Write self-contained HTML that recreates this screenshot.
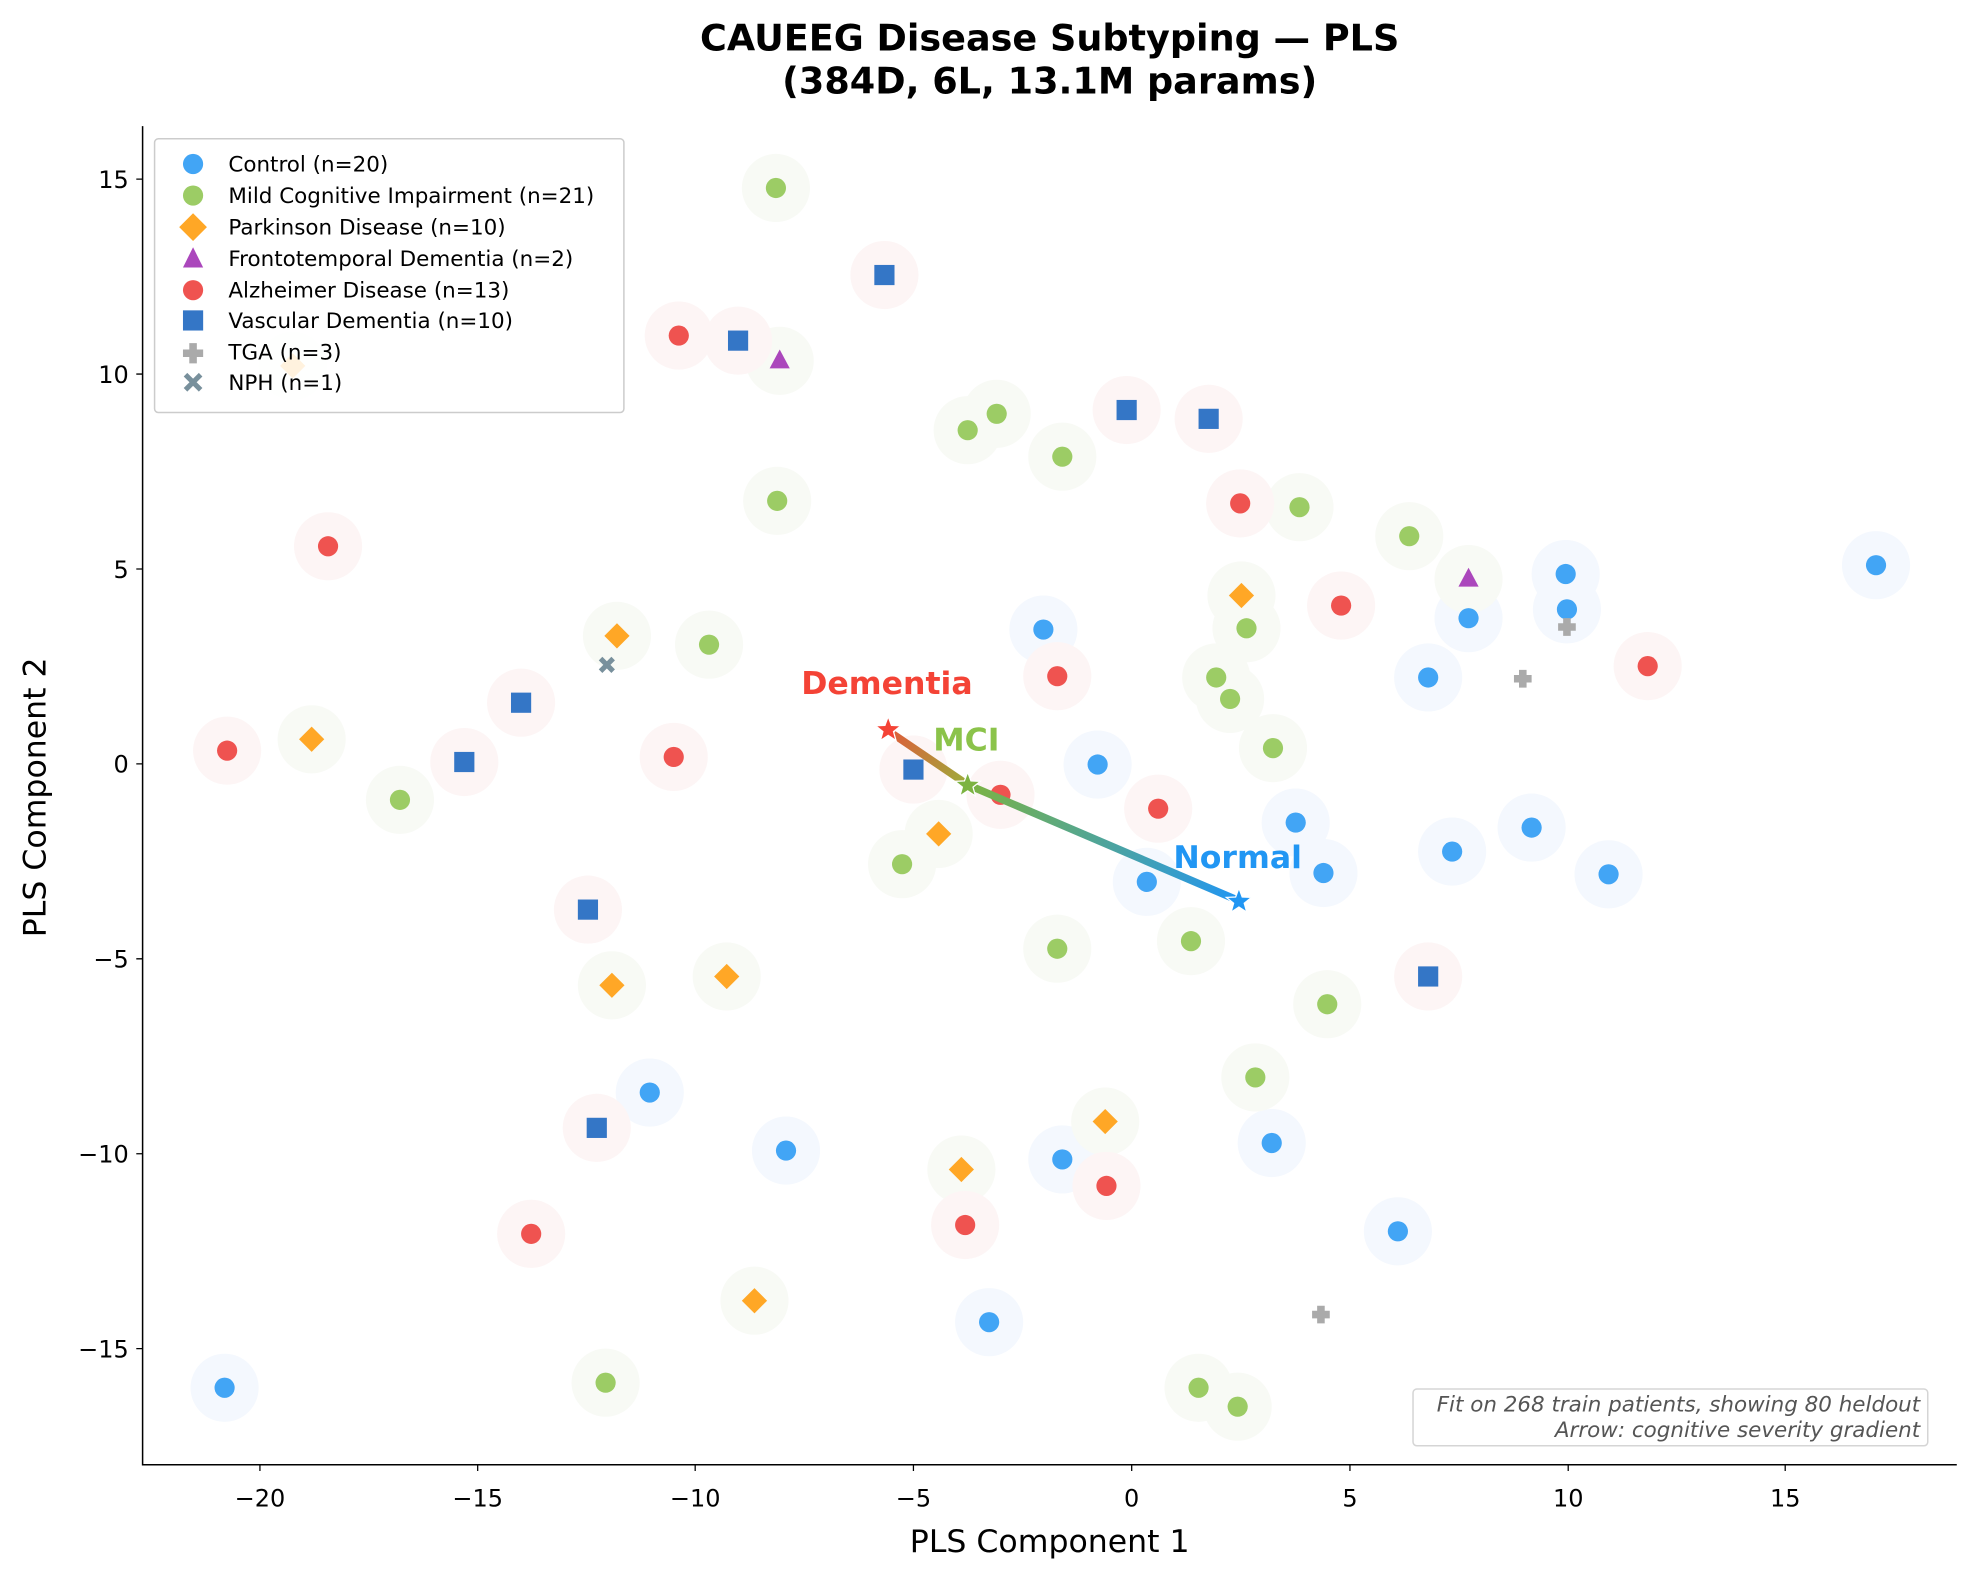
<!DOCTYPE html>
<html><head><meta charset="utf-8"><style>html,body{margin:0;padding:0;background:#fff}svg{display:block}text{font-family:"DejaVu Sans","Liberation Sans",sans-serif}</style></head>
<body>
<svg width="1977" height="1577" viewBox="0 0 1567 1250" xmlns="http://www.w3.org/2000/svg">
<defs>
<linearGradient id="g1" gradientUnits="userSpaceOnUse" x1="982" y1="714" x2="767" y2="622"><stop offset="0" stop-color="#2196f3"/><stop offset="1" stop-color="#7cb342"/></linearGradient>
<linearGradient id="g2" gradientUnits="userSpaceOnUse" x1="767" y1="622" x2="704" y2="578"><stop offset="0" stop-color="#9cad3a"/><stop offset="1" stop-color="#e05a3a"/></linearGradient>
</defs>
<rect width="1567" height="1250" fill="#fff"/>
<text x="832" y="40" text-anchor="middle" font-size="29" font-weight="bold">CAUEEG Disease Subtyping — PLS</text>
<text x="832" y="74" text-anchor="middle" font-size="29" font-weight="bold">(384D, 6L, 13.1M params)</text>
<g id="halos">
<g fill="#f4f8fe">
<circle cx="1487" cy="448" r="27"/><circle cx="1241" cy="455" r="27"/><circle cx="1242" cy="483" r="27"/><circle cx="1164" cy="490" r="27"/><circle cx="1132" cy="537" r="27"/><circle cx="827" cy="499" r="27"/><circle cx="870" cy="606" r="27"/><circle cx="1027" cy="652" r="27"/><circle cx="1049" cy="692" r="27"/><circle cx="1151" cy="675" r="27"/><circle cx="1214" cy="656" r="27"/><circle cx="1275" cy="693" r="27"/><circle cx="909" cy="699" r="27"/><circle cx="515" cy="866" r="27"/><circle cx="623" cy="912" r="27"/><circle cx="842" cy="919" r="27"/><circle cx="1008" cy="906" r="27"/><circle cx="1108" cy="976" r="27"/><circle cx="784" cy="1048" r="27"/><circle cx="178" cy="1100" r="27"/>
</g>
<g fill="#f8faf5">
<circle cx="615" cy="149" r="27"/><circle cx="767" cy="341" r="27"/><circle cx="790" cy="328" r="27"/><circle cx="842" cy="362" r="27"/><circle cx="616" cy="397" r="27"/><circle cx="1030" cy="402" r="27"/><circle cx="1117" cy="425" r="27"/><circle cx="988" cy="498" r="27"/><circle cx="562" cy="511" r="27"/><circle cx="964" cy="537" r="27"/><circle cx="975" cy="554" r="27"/><circle cx="1009" cy="593" r="27"/><circle cx="317" cy="634" r="27"/><circle cx="715" cy="685" r="27"/><circle cx="838" cy="752" r="27"/><circle cx="944" cy="746" r="27"/><circle cx="1052" cy="796" r="27"/><circle cx="995" cy="854" r="27"/><circle cx="480" cy="1096" r="27"/><circle cx="950" cy="1100" r="27"/><circle cx="981" cy="1115" r="27"/>
<circle cx="984" cy="472" r="27"/><circle cx="489" cy="504" r="27"/><circle cx="247" cy="586" r="27"/><circle cx="744" cy="661" r="27"/><circle cx="485" cy="781" r="27"/><circle cx="576" cy="774" r="27"/><circle cx="876" cy="889" r="27"/><circle cx="762" cy="927" r="27"/><circle cx="598" cy="1031" r="27"/><circle cx="232" cy="290" r="27"/>
<circle cx="618" cy="286" r="27"/><circle cx="1164" cy="459" r="27"/>
</g>
<g fill="#fdf5f5">
<circle cx="538" cy="266" r="27"/><circle cx="260" cy="433" r="27"/><circle cx="1063" cy="480" r="27"/><circle cx="838" cy="536" r="27"/><circle cx="180" cy="595" r="27"/><circle cx="534" cy="600" r="27"/><circle cx="918" cy="641" r="27"/><circle cx="793" cy="630" r="27"/><circle cx="983" cy="399" r="27"/><circle cx="877" cy="940" r="27"/><circle cx="765" cy="971" r="27"/><circle cx="421" cy="978" r="27"/><circle cx="1306" cy="528" r="27"/>
<circle cx="701" cy="218" r="27"/><circle cx="585" cy="270" r="27"/><circle cx="893" cy="325" r="27"/><circle cx="958" cy="332" r="27"/><circle cx="413" cy="557" r="27"/><circle cx="368" cy="604" r="27"/><circle cx="724" cy="610" r="27"/><circle cx="466" cy="721" r="27"/><circle cx="1132" cy="774" r="27"/><circle cx="473" cy="894" r="27"/>
</g>
</g>
<g fill="#42a5f5">
<circle cx="1487" cy="448" r="8"/><circle cx="1241" cy="455" r="8"/><circle cx="1242" cy="483" r="8"/><circle cx="1164" cy="490" r="8"/><circle cx="1132" cy="537" r="8"/><circle cx="827" cy="499" r="8"/><circle cx="870" cy="606" r="8"/><circle cx="1027" cy="652" r="8"/><circle cx="1049" cy="692" r="8"/><circle cx="1151" cy="675" r="8"/><circle cx="1214" cy="656" r="8"/><circle cx="1275" cy="693" r="8"/><circle cx="909" cy="699" r="8"/><circle cx="515" cy="866" r="8"/><circle cx="623" cy="912" r="8"/><circle cx="842" cy="919" r="8"/><circle cx="1008" cy="906" r="8"/><circle cx="1108" cy="976" r="8"/><circle cx="784" cy="1048" r="8"/><circle cx="178" cy="1100" r="8"/>
</g>
<g fill="#9ccc65">
<circle cx="615" cy="149" r="8"/><circle cx="767" cy="341" r="8"/><circle cx="790" cy="328" r="8"/><circle cx="842" cy="362" r="8"/><circle cx="616" cy="397" r="8"/><circle cx="1030" cy="402" r="8"/><circle cx="1117" cy="425" r="8"/><circle cx="988" cy="498" r="8"/><circle cx="562" cy="511" r="8"/><circle cx="964" cy="537" r="8"/><circle cx="975" cy="554" r="8"/><circle cx="1009" cy="593" r="8"/><circle cx="317" cy="634" r="8"/><circle cx="715" cy="685" r="8"/><circle cx="838" cy="752" r="8"/><circle cx="944" cy="746" r="8"/><circle cx="1052" cy="796" r="8"/><circle cx="995" cy="854" r="8"/><circle cx="480" cy="1096" r="8"/><circle cx="950" cy="1100" r="8"/><circle cx="981" cy="1115" r="8"/>
</g>
<g fill="#ffa726">
<path d="M984 462l10 10-10 10-10-10z"/><path d="M489 494l10 10-10 10-10-10z"/><path d="M247 576l10 10-10 10-10-10z"/><path d="M744 651l10 10-10 10-10-10z"/><path d="M485 771l10 10-10 10-10-10z"/><path d="M576 764l10 10-10 10-10-10z"/><path d="M876 879l10 10-10 10-10-10z"/><path d="M762 917l10 10-10 10-10-10z"/><path d="M598 1021l10 10-10 10-10-10z"/><path d="M232 280l10 10-10 10-10-10z"/>
</g>
<g fill="#ab47bc"><path d="M618 277l8 15h-16z"/><path d="M1164 450l8 15h-16z"/></g>
<g fill="#ef5350">
<circle cx="538" cy="266" r="8"/><circle cx="260" cy="433" r="8"/><circle cx="1063" cy="480" r="8"/><circle cx="838" cy="536" r="8"/><circle cx="180" cy="595" r="8"/><circle cx="534" cy="600" r="8"/><circle cx="918" cy="641" r="8"/><circle cx="793" cy="630" r="8"/><circle cx="983" cy="399" r="8"/><circle cx="877" cy="940" r="8"/><circle cx="765" cy="971" r="8"/><circle cx="421" cy="978" r="8"/><circle cx="1306" cy="528" r="8"/>
</g>
<g fill="#3476c6">
<rect x="693" y="210" width="16" height="16"/><rect x="577" y="262" width="16" height="16"/><rect x="885" y="317" width="16" height="16"/><rect x="950" y="324" width="16" height="16"/><rect x="405" y="549" width="16" height="16"/><rect x="360" y="596" width="16" height="16"/><rect x="716" y="602" width="16" height="16"/><rect x="458" y="713" width="16" height="16"/><rect x="1124" y="766" width="16" height="16"/><rect x="465" y="886" width="16" height="16"/>
</g>
<g fill="#aaa"><path d="M1204 531h6v4h4v6h-4v4h-6v-4h-4v-6h4z"/><path d="M1239 490h6v4h4v6h-4v4h-6v-4h-4v-6h4z"/><path d="M1044 1035h6v4h4v6h-4v4h-6v-4h-4v-6h4z"/></g>
<path d="M476 522l10 10M486 522l-10 10" stroke="#78909c" stroke-width="4"/>
<line x1="982" y1="714" x2="767" y2="622" stroke="url(#g1)" stroke-width="6"/>
<line x1="767" y1="622" x2="708" y2="582" stroke="url(#g2)" stroke-width="6"/>
<g stroke="#fff" stroke-width="1">
<path fill="#2196f3" d="M982 704l2.6 7 7.4.3-5.8 4.6 2 7.1-6.2-4.1-6.2 4.1 2-7.1-5.8-4.6 7.4-.3z"/>
<path fill="#7cb342" d="M767 612l2.6 7 7.4.3-5.8 4.6 2 7.1-6.2-4.1-6.2 4.1 2-7.1-5.8-4.6 7.4-.3z"/>
<path fill="#f44336" d="M704 568l2.6 7 7.4.3-5.8 4.6 2 7.1-6.2-4.1-6.2 4.1 2-7.1-5.8-4.6 7.4-.3z"/>
</g>
<text x="703" y="550" text-anchor="middle" font-size="25" font-weight="bold" fill="#f44336">Dementia</text>
<text x="766" y="595" text-anchor="middle" font-size="25" font-weight="bold" fill="#8bc34a">MCI</text>
<text x="981" y="688" text-anchor="middle" font-size="25" font-weight="bold" fill="#2196f3">Normal</text>
<rect x="122.5" y="110" width="372" height="217" rx="3" fill="#fff" fill-opacity="0.85" stroke="#ccc" stroke-width="1.2"/>
<g font-size="17">
<circle cx="153" cy="130" r="8" fill="#42a5f5"/><text x="181" y="136">Control (n=20)</text>
<circle cx="153" cy="155" r="8" fill="#9ccc65"/><text x="181" y="161">Mild Cognitive Impairment (n=21)</text>
<path d="M153 169l11 11-11 11-11-11z" fill="#ffa726"/><text x="181" y="186">Parkinson Disease (n=10)</text>
<path d="M153 196l8 16h-16z" fill="#ab47bc"/><text x="181" y="211">Frontotemporal Dementia (n=2)</text>
<circle cx="153" cy="230" r="8" fill="#ef5350"/><text x="181" y="236">Alzheimer Disease (n=13)</text>
<rect x="145" y="246" width="16" height="16" fill="#3476c6"/><text x="181" y="260">Vascular Dementia (n=10)</text>
<path d="M150 272h6v5h5v6h-5v5h-6v-5h-5v-6h5z" fill="#aaa"/><text x="181" y="285">TGA (n=3)</text>
<path d="M147 297l12 12M159 297l-12 12" stroke="#78909c" stroke-width="4"/><text x="181" y="309">NPH (n=1)</text>
</g>
<rect x="1120" y="1101" width="408" height="45" rx="3" fill="#fff" stroke="#d5d5d5" stroke-width="1.2"/>
<text x="1522" y="1119" text-anchor="end" font-size="17" font-style="italic" fill="#555">Fit on 268 train patients, showing 80 heldout</text>
<text x="1522" y="1139" text-anchor="end" font-size="17" font-style="italic" fill="#555">Arrow: cognitive severity gradient</text>
<path d="M113 100V1161H1551" fill="none" stroke="#000" stroke-width="1.2"/>
<g stroke="#000" stroke-width="1">
<path d="M206 1161v5M378.6 1161v5M551 1161v5M724 1161v5M897 1161v5M1070 1161v5M1243 1161v5M1415 1161v5"/>
<path d="M113 142h-5M113 296.5h-5M113 451h-5M113 605.5h-5M113 760h-5M113 914.5h-5M113 1069h-5"/>
</g>
<g font-size="19" text-anchor="middle">
<text x="206" y="1194">−20</text><text x="378.6" y="1194">−15</text><text x="551" y="1194">−10</text><text x="724" y="1194">−5</text><text x="897" y="1194">0</text><text x="1070" y="1194">5</text><text x="1243" y="1194">10</text><text x="1415" y="1194">15</text>
</g>
<g font-size="19" text-anchor="end">
<text x="102" y="149">15</text><text x="102" y="303.5">10</text><text x="102" y="458">5</text><text x="102" y="612.5">0</text><text x="102" y="767">−5</text><text x="102" y="921.5">−10</text><text x="102" y="1076">−15</text>
</g>
<text x="832" y="1230" text-anchor="middle" font-size="25">PLS Component 1</text>
<text transform="translate(36,632) rotate(-90)" text-anchor="middle" font-size="25">PLS Component 2</text>
</svg>
</body></html>
